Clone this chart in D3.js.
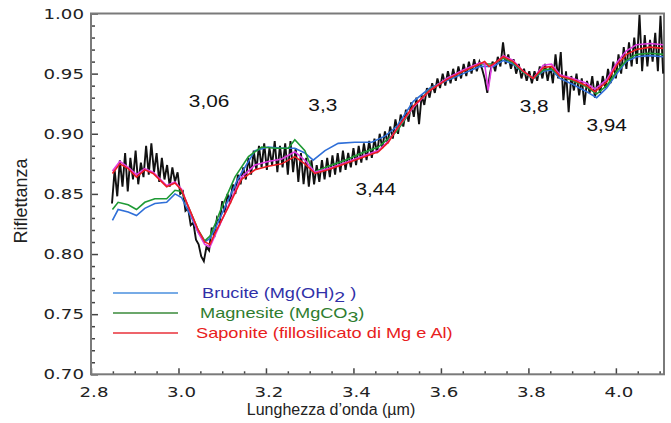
<!DOCTYPE html>
<html>
<head>
<meta charset="utf-8">
<script src="https://cdn.jsdelivr.net/npm/d3@7"></script>
<style>
  body { margin: 0; background: #fff; }
  svg { display: block; }
</style>
</head>
<body>
<div id="container"></div>
<script>
// Axis ticks and labels
const xTicks = [2.8, 3.0, 3.2, 3.4, 3.6, 3.8, 4.0];
const xTickLabels = ["2.8", "3.0", "3.2", "3.4", "3.6", "3.8", "4.0"];
const yTicks = [0.70, 0.75, 0.80, 0.85, 0.90, 0.95, 1.00];
const yTickLabels = ["0.70", "0.75", "0.80", "0.85", "0.90", "0.95", "1.00"];

// Band labels (text, wavelength, reflectance of the baseline)
const bandLabels = ["3,06", "3,3", "3,44", "3,8", "3,94"];
const bandWl = [3.070, 3.330, 3.451, 3.813, 3.979];
const bandRefl = [0.922, 0.919, 0.849, 0.918, 0.902];

// Observed spectrum [wavelength, reflectance]
const observed = [
  [2.848,0.842],[2.854,0.870],[2.860,0.848],[2.866,0.878],[2.872,0.856],[2.878,0.884],
  [2.884,0.852],[2.890,0.880],[2.896,0.862],[2.902,0.886],[2.908,0.858],[2.914,0.876],
  [2.920,0.864],[2.926,0.890],[2.932,0.866],[2.938,0.892],[2.944,0.868],[2.950,0.884],
  [2.956,0.860],[2.962,0.880],[2.968,0.862],[2.974,0.874],[2.980,0.856],[2.986,0.872],
  [2.992,0.860],[2.998,0.868],
  [3.004,0.850],[3.010,0.852],[3.016,0.836],[3.022,0.838],[3.028,0.824],[3.034,0.826],
  [3.040,0.812],[3.046,0.808],[3.052,0.798],[3.058,0.794],[3.064,0.806],[3.070,0.803],
  [3.076,0.822],[3.082,0.814],[3.088,0.830],[3.094,0.826],[3.100,0.844],[3.106,0.834],
  [3.112,0.850],[3.118,0.842],[3.124,0.858],[3.130,0.850],[3.136,0.866],[3.142,0.858],
  [3.148,0.872],[3.154,0.862],[3.160,0.880],[3.166,0.866],[3.172,0.886],[3.178,0.870],
  [3.184,0.890],[3.190,0.872],
  [3.196,0.892],[3.202,0.870],[3.208,0.888],[3.214,0.874],[3.220,0.894],[3.226,0.868],
  [3.232,0.890],[3.238,0.872],[3.244,0.892],[3.250,0.866],[3.256,0.894],[3.262,0.868],
  [3.268,0.888],[3.274,0.860],[3.280,0.884],[3.286,0.858],[3.292,0.880],[3.298,0.856],
  [3.304,0.878],[3.310,0.858],[3.316,0.874],[3.322,0.860],[3.328,0.878],[3.334,0.862],
  [3.340,0.880],[3.346,0.864],[3.352,0.882],[3.358,0.866],[3.364,0.884],[3.370,0.868],
  [3.376,0.886],[3.382,0.870],[3.388,0.884],[3.394,0.872],[3.400,0.888],[3.406,0.874],
  [3.412,0.890],[3.418,0.876],[3.424,0.892],[3.430,0.878],[3.436,0.894],[3.442,0.880],
  [3.448,0.896],[3.454,0.884],[3.460,0.900],
  [3.466,0.888],[3.472,0.902],[3.478,0.892],[3.484,0.906],[3.490,0.896],[3.496,0.912],
  [3.502,0.900],[3.508,0.916],[3.514,0.906],[3.520,0.920],[3.526,0.910],[3.532,0.926],
  [3.538,0.914],[3.544,0.930],[3.550,0.908],[3.556,0.932],[3.562,0.924],[3.568,0.938],
  [3.574,0.930],[3.580,0.942],[3.586,0.934],[3.592,0.946],[3.598,0.938],[3.604,0.950],
  [3.610,0.940],[3.616,0.952],[3.622,0.942],[3.628,0.954],[3.634,0.944],[3.640,0.956],
  [3.646,0.946],[3.652,0.958],[3.658,0.948],[3.664,0.960],[3.670,0.950],[3.676,0.962],
  [3.682,0.952],[3.688,0.960],[3.694,0.954],[3.700,0.946],[3.706,0.934],[3.712,0.950],
  [3.718,0.960],[3.724,0.952],[3.730,0.964],[3.736,0.956],[3.742,0.976],[3.748,0.958],
  [3.754,0.966],[3.760,0.954],[3.766,0.962],[3.772,0.950],[3.778,0.958],[3.784,0.946],
  [3.790,0.954],[3.796,0.944],[3.802,0.952],[3.808,0.942],[3.814,0.952],[3.820,0.944],
  [3.826,0.956],[3.832,0.946],[3.838,0.958],[3.844,0.944],[3.850,0.956],
  [3.856,0.942],[3.862,0.966],[3.868,0.946],[3.874,0.968],[3.880,0.928],[3.886,0.952],
  [3.892,0.918],[3.898,0.948],[3.904,0.936],[3.910,0.950],[3.916,0.932],[3.922,0.946],
  [3.928,0.924],[3.934,0.944],[3.940,0.934],[3.946,0.948],[3.952,0.930],[3.958,0.944],
  [3.964,0.934],[3.970,0.948],[3.976,0.938],[3.982,0.954],[3.988,0.942],
  [3.994,0.960],[4.000,0.946],[4.006,0.966],[4.012,0.950],[4.018,0.972],[4.024,0.954],
  [4.030,0.976],[4.036,0.956],[4.042,0.980],[4.048,0.958],[4.054,0.999],[4.060,0.952],
  [4.066,0.982],[4.072,0.956],[4.078,0.978],[4.084,0.960],[4.090,0.984],[4.096,0.952],
  [4.102,0.998],[4.108,0.950]
];

// Brucite (Mg(OH)2) model
const brucite = [
  [2.849,0.828],[2.862,0.837],[2.885,0.835],[2.904,0.832],[2.923,0.838],[2.946,0.842],
  [2.973,0.843],[2.992,0.850],[3.007,0.847],[3.030,0.830],[3.045,0.818],[3.060,0.810],
  [3.072,0.813],[3.085,0.822],[3.105,0.838],[3.135,0.862],[3.175,0.886],[3.205,0.889],
  [3.236,0.888],[3.266,0.888],[3.289,0.884],[3.308,0.878],[3.335,0.886],[3.365,0.892],
  [3.403,0.893],[3.442,0.893],[3.472,0.898],[3.499,0.906],[3.537,0.927],[3.575,0.938],
  [3.613,0.944],[3.651,0.950],[3.689,0.956],[3.720,0.956],[3.743,0.961],[3.765,0.958],
  [3.788,0.951],[3.811,0.946],[3.834,0.952],[3.853,0.953],[3.872,0.946],[3.902,0.941],
  [3.933,0.935],[3.956,0.930],[3.979,0.938],[4.002,0.950],[4.024,0.960],[4.047,0.964],
  [4.078,0.965],[4.108,0.964]
];

// Magnesite (MgCO3) model
const magnesite = [
  [2.849,0.837],[2.862,0.843],[2.885,0.841],[2.904,0.837],[2.923,0.843],[2.946,0.846],
  [2.973,0.846],[2.992,0.853],[3.007,0.852],[3.030,0.833],[3.045,0.820],[3.060,0.811],
  [3.072,0.815],[3.085,0.826],[3.099,0.839],[3.129,0.864],[3.160,0.881],[3.190,0.889],
  [3.221,0.888],[3.251,0.888],[3.266,0.895],[3.289,0.886],[3.308,0.868],[3.342,0.873],
  [3.381,0.878],[3.419,0.884],[3.457,0.889],[3.499,0.902],[3.537,0.922],[3.575,0.937],
  [3.613,0.945],[3.651,0.952],[3.689,0.958],[3.720,0.958],[3.743,0.963],[3.765,0.959],
  [3.788,0.951],[3.811,0.946],[3.834,0.953],[3.853,0.954],[3.872,0.948],[3.902,0.944],
  [3.933,0.939],[3.956,0.933],[3.979,0.940],[4.002,0.952],[4.024,0.961],[4.047,0.966],
  [4.078,0.967],[4.108,0.966]
];

// Saponite model
const saponite = [
  [2.849,0.867],[2.866,0.875],[2.885,0.871],[2.904,0.864],[2.923,0.870],[2.942,0.867],
  [2.973,0.856],[2.992,0.859],[3.007,0.853],[3.030,0.833],[3.045,0.820],[3.060,0.810],
  [3.072,0.808],[3.083,0.817],[3.114,0.839],[3.144,0.862],[3.175,0.870],[3.205,0.873],
  [3.236,0.875],[3.266,0.881],[3.289,0.875],[3.312,0.867],[3.342,0.870],[3.381,0.875],
  [3.419,0.880],[3.457,0.885],[3.480,0.893],[3.499,0.904],[3.537,0.923],[3.575,0.936],
  [3.613,0.945],[3.651,0.952],[3.689,0.958],[3.700,0.960],[3.710,0.956],[3.720,0.958],
  [3.743,0.964],[3.765,0.960],[3.788,0.952],[3.811,0.946],[3.834,0.955],[3.853,0.956],
  [3.872,0.948],[3.902,0.945],[3.933,0.940],[3.952,0.935],[3.979,0.943],[4.002,0.957],
  [4.024,0.966],[4.047,0.970],[4.078,0.972],[4.108,0.971]
];

// Extra (magenta) model, not in the legend
const extraModel = [
  [2.849,0.869],[2.866,0.877],[2.885,0.872],[2.904,0.866],[2.923,0.871],[2.942,0.868],
  [2.973,0.857],[2.992,0.860],[3.007,0.854],[3.030,0.832],[3.045,0.818],[3.060,0.808],
  [3.072,0.806],[3.083,0.815],[3.114,0.840],[3.144,0.864],[3.175,0.874],[3.205,0.877],
  [3.236,0.879],[3.266,0.885],[3.289,0.878],[3.312,0.868],[3.342,0.871],[3.381,0.876],
  [3.419,0.881],[3.457,0.886],[3.480,0.894],[3.499,0.904],[3.537,0.922],[3.575,0.936],
  [3.613,0.946],[3.651,0.953],[3.689,0.959],[3.700,0.958],[3.708,0.936],[3.716,0.956],
  [3.743,0.965],[3.765,0.961],[3.788,0.952],[3.811,0.946],[3.834,0.957],[3.853,0.958],
  [3.872,0.949],[3.902,0.946],[3.933,0.942],[3.952,0.937],[3.979,0.945],[4.002,0.959],
  [4.024,0.969],[4.047,0.974],[4.078,0.975],[4.108,0.974]
];

// Legend entries
const legendNames = ["Brucite (Mg(OH)", "Magnesite (MgCO", "Saponite (fillosilicato di Mg e Al)"];
const legendSubs = ["2", "3", ""];
const legendTails = [" )", ")", ""];

const width = 671, height = 423;
const plot = { left: 91, right: 664, top: 13.5, bottom: 374.3 };
const stretch = 1.3; // text in the picture is horizontally wide

const svg = d3.select("#container")
  .append("svg")
  .attr("width", width)
  .attr("height", height);

const x = d3.scaleLinear().domain([2.8, 4.11]).range([plot.left, plot.right]);
const y = d3.scaleLinear().domain([0.70, 1.00]).range([plot.bottom, plot.top]);

svg.append("clipPath").attr("id", "clip")
  .append("rect")
  .attr("x", plot.left).attr("y", plot.top)
  .attr("width", plot.right - plot.left).attr("height", plot.bottom - plot.top);

// Minor ticks (inward)
const axisColor = "#7a7a7a";
const xMinor = d3.range(2.85, 4.11, 0.05).filter(v => Math.abs(Math.round(v * 5) / 5 - v) > 0.001);
const yMinor = d3.range(0.71, 1.0, 0.01).filter(v => Math.abs(Math.round(v * 20) / 20 - v) > 0.001);

const xAxis = d3.axisBottom(x).tickValues(xTicks).tickSize(-6).tickFormat("");
const xAxisMinor = d3.axisBottom(x).tickValues(xMinor).tickSize(-3).tickFormat("");
const yAxis = d3.axisLeft(y).tickValues(yTicks).tickSize(-7).tickFormat("");
const yAxisMinor = d3.axisLeft(y).tickValues(yMinor).tickSize(-4).tickFormat("");

[xAxis, xAxisMinor].forEach(a => {
  svg.append("g").attr("transform", "translate(0," + plot.bottom + ")").call(a)
    .call(g => g.select(".domain").remove())
    .selectAll("line").attr("stroke", "#444").attr("stroke-width", 1.5);
});
[yAxis, yAxisMinor].forEach(a => {
  svg.append("g").attr("transform", "translate(" + plot.left + ",0)").call(a)
    .call(g => g.select(".domain").remove())
    .selectAll("line").attr("stroke", "#444").attr("stroke-width", 1.5);
});

// Frame
svg.append("rect")
  .attr("x", plot.left).attr("y", plot.top)
  .attr("width", plot.right - plot.left).attr("height", plot.bottom - plot.top)
  .attr("fill", "none").attr("stroke", axisColor).attr("stroke-width", 2);

// Helper for horizontally wide text
function wideText(px, py, str, size, anchor, family, color) {
  return svg.append("text")
    .attr("transform", "translate(" + px + "," + py + ") scale(" + stretch + ",1)")
    .attr("text-anchor", anchor)
    .attr("font-family", family)
    .attr("font-size", size)
    .attr("fill", color)
    .text(str);
}

// Tick labels
xTicks.forEach((t, i) => wideText(x(t) + 3, 397, xTickLabels[i], 14, "middle", "DejaVu Sans", "#222"));
yTicks.forEach((t, i) => wideText(84, y(t) + 5, yTickLabels[i], 14, "end", "DejaVu Sans", "#222"));

// Axis titles
svg.append("text")
  .attr("x", 331).attr("y", 415)
  .attr("text-anchor", "middle")
  .attr("font-family", "Liberation Sans, Arial, sans-serif")
  .attr("font-size", 16)
  .attr("fill", "#222")
  .text("Lunghezza d\u2019onda (\u00b5m)");

svg.append("text")
  .attr("transform", "translate(27,201) rotate(-90)")
  .attr("text-anchor", "middle")
  .attr("font-family", "Liberation Sans, Arial, sans-serif")
  .attr("font-size", 18)
  .attr("fill", "#222")
  .text("Riflettanza");

// Spectra
const line = d3.line().x(d => x(d[0])).y(d => y(d[1]));
const curves = svg.append("g").attr("clip-path", "url(#clip)");

curves.append("path").datum(observed)
  .attr("d", line).attr("fill", "none").attr("stroke", "#111").attr("stroke-width", 1.9);

const models = [
  { data: brucite, color: "#2f6fd8" },
  { data: magnesite, color: "#1e9a35" },
  { data: extraModel, color: "#e03ce0" },
  { data: saponite, color: "#ec1c24" }
];
models.forEach(m => {
  curves.append("path").datum(m.data)
    .attr("d", line).attr("fill", "none")
    .attr("stroke", m.color).attr("stroke-width", 1.6);
});

// Band labels
bandLabels.forEach((b, i) => wideText(x(bandWl[i]), y(bandRefl[i]), b, 16, "middle", "Liberation Sans, Arial, sans-serif", "#111"));

// Legend
const legendLineColors = ["#4a8fde", "#3a8a3a", "#e8313a"];
const legendTextColors = ["#3030a8", "#2f7d2f", "#e82020"];
const legendTextX = [202, 200, 196];
legendNames.forEach((name, i) => {
  const ly = 293 + i * 20;
  svg.append("line")
    .attr("x1", 113).attr("x2", 178).attr("y1", ly).attr("y2", ly)
    .attr("stroke", legendLineColors[i]).attr("stroke-width", 1.6);
  const t = wideText(legendTextX[i], ly + 5, "", 14, "start", "Liberation Sans, Arial, sans-serif", legendTextColors[i]);
  t.append("tspan").text(name);
  if (legendSubs[i]) {
    t.append("tspan").attr("dy", 4).attr("font-size", 15).text(legendSubs[i]);
    t.append("tspan").attr("dy", -4).text(legendTails[i]);
  }
});
</script>
</body>
</html>
